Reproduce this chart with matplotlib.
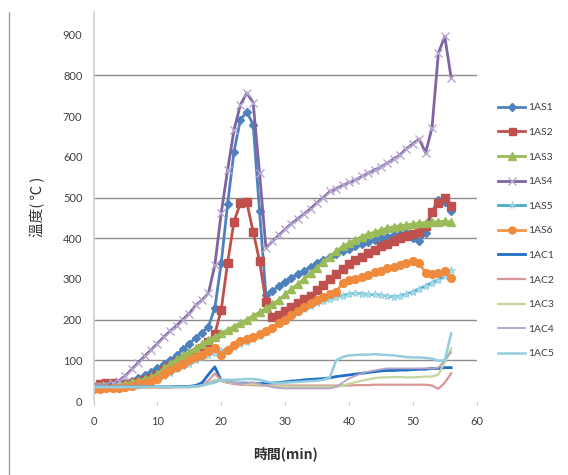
import matplotlib
matplotlib.use("Agg")
import matplotlib.pyplot as plt
from matplotlib.lines import Line2D

# time (min)
t = list(range(0, 57))

AS1 = [35, 36, 38, 40, 42, 45, 50, 56, 63, 72, 80, 90, 100, 113, 127, 141, 155, 168, 183, 229,
       339, 484, 613, 691, 711, 679, 467, 260, 270, 283, 293, 303, 312, 320, 330, 338, 347, 355,
       362, 368, 374, 380, 386, 391, 396, 400, 404, 408, 410, 412, 400, 392, 412, 465, 494, 490, 468]
AS2 = [35, 42, 45, 44, 42, 42, 44, 47, 52, 57, 64, 75, 86, 95, 102, 109, 116, 130, 145, 165,
       224, 340, 441, 486, 488, 416, 344, 244, 207, 212, 222, 230, 240, 250, 258, 272, 286, 300,
       313, 325, 336, 346, 355, 364, 372, 380, 387, 394, 400, 406, 410, 415, 430, 465, 486, 498, 480]
AS3 = [35, 37, 38, 40, 41, 43, 46, 50, 54, 59, 66, 80, 92, 102, 112, 121, 130, 140, 150, 158,
       166, 175, 183, 192, 200, 210, 218, 228, 238, 248, 262, 275, 288, 300, 315, 328, 342, 355,
       368, 380, 388, 396, 404, 410, 415, 420, 425, 428, 431, 433, 435, 437, 438, 440, 441, 442, 440]
AS4 = [35, 38, 40, 45, 50, 62, 78, 94, 110, 125, 141, 157, 172, 185, 200, 215, 235, 248, 265, 334,
       462, 568, 666, 728, 757, 733, 560, 376, 392, 407, 422, 436, 448, 460, 473, 487, 500, 515,
       522, 530, 537, 543, 552, 560, 568, 575, 585, 595, 605, 620, 632, 644, 610, 671, 855, 896, 794]
AS5 = [33, 33, 34, 35, 36, 38, 40, 42, 45, 48, 55, 62, 70, 78, 85, 92, 100, 107, 113, 118,
       122, 128, 133, 140, 146, 152, 160, 170, 180, 192, 202, 210, 218, 226, 233, 240, 245, 250,
       255, 259, 263, 265, 264, 262, 262, 260, 258, 256, 258, 263, 268, 275, 283, 290, 298, 308, 322]
AS6 = [30, 30, 31, 32, 33, 35, 38, 42, 45, 48, 55, 66, 76, 84, 92, 100, 107, 113, 122, 130,
       113, 125, 137, 147, 153, 158, 165, 172, 180, 192, 200, 212, 222, 232, 240, 248, 255, 262,
       268, 290, 298, 300, 305, 310, 316, 320, 326, 330, 334, 338, 343, 340, 314, 312, 315, 320, 302]
AC1 = [35, 35, 35, 35, 35, 35, 35, 35, 35, 35, 35, 35, 35, 36, 36, 36, 38, 45, 65, 84,
       50, 46, 44, 44, 44, 43, 43, 43, 44, 45, 47, 49, 50, 52, 53, 54, 55, 57,
       60, 62, 64, 66, 68, 70, 72, 74, 75, 75, 76, 76, 77, 78, 78, 80, 80, 82, 82]
AC2 = [33, 33, 33, 33, 33, 33, 33, 33, 33, 33, 33, 33, 33, 34, 34, 34, 35, 38, 50, 68,
       50, 45, 42, 40, 40, 39, 38, 38, 38, 38, 38, 38, 38, 38, 38, 38, 38, 38,
       38, 38, 38, 39, 39, 39, 40, 40, 40, 40, 40, 40, 40, 40, 40, 38, 30, 45, 68]
AC3 = [34, 34, 34, 34, 34, 34, 34, 34, 34, 34, 34, 34, 34, 34, 34, 34, 35, 37, 44, 52,
       50, 46, 44, 43, 42, 42, 40, 38, 37, 36, 36, 35, 35, 35, 35, 35, 35, 35,
       35, 38, 42, 46, 50, 53, 56, 58, 58, 59, 59, 58, 58, 59, 60, 60, 65, 95, 129]
AC4 = [35, 35, 35, 35, 35, 35, 35, 35, 35, 35, 35, 35, 35, 35, 35, 35, 36, 38, 44, 48,
       52, 48, 45, 42, 44, 46, 42, 38, 34, 32, 31, 31, 31, 31, 31, 31, 31, 31,
       35, 45, 55, 62, 68, 72, 75, 78, 80, 80, 80, 80, 80, 80, 80, 80, 82, 100, 120]
AC5 = [35, 35, 35, 35, 35, 35, 35, 35, 35, 35, 35, 35, 35, 35, 35, 35, 36, 38, 42, 45,
       52, 52, 52, 53, 54, 54, 52, 48, 45, 44, 45, 46, 47, 48, 49, 50, 52, 58,
       100, 108, 112, 113, 114, 114, 115, 114, 113, 112, 110, 108, 107, 107, 106, 104, 99, 100, 166]

names = ["1AS1", "1AS2", "1AS3", "1AS4", "1AS5", "1AS6", "1AC1", "1AC2", "1AC3", "1AC4", "1AC5"]
series = [AS1, AS2, AS3, AS4, AS5, AS6, AC1, AC2, AC3, AC4, AC5]

styles = [
    dict(color="#4F81BD", lw=2.0, marker="D", ms=4.2, mfc="#4F81BD", mec="#4F81BD"),
    dict(color="#C0504D", lw=2.0, marker="s", ms=5.6, mfc="#C0504D", mec="#C0504D"),
    dict(color="#9BBB59", lw=2.0, marker="^", ms=5.8, mfc="#9BBB59", mec="#9BBB59"),
    dict(color="#8064A2", lw=2.0, marker="x", ms=6.0, mfc="none", mec="#B7A6D0", mew=1.0),
    dict(color="#4BACC6", lw=2.0, marker="*", ms=6.0, mfc="#A9DCEA", mec="#8FD0E2", mew=0.6),
    dict(color="#F79646", lw=2.0, marker="o", ms=5.6, mfc="#F08A3C", mec="#F08A3C"),
    dict(color="#1F6FC6", lw=2.0),
    dict(color="#D99694", lw=1.6),
    dict(color="#C3D69B", lw=1.6),
    dict(color="#B3A2C7", lw=1.3),
    dict(color="#93CDDD", lw=1.8),
]

fig = plt.figure(figsize=(5.68, 4.75), dpi=100)
ax = fig.add_axes([93.5 / 568, 74 / 475, (476.7 - 93.5) / 568, (401 - 12) / 475])

for vals, name, st in zip(series, names, styles):
    ax.plot(t, vals, label=name, solid_joinstyle="round", **st)

ax.set_xlim(0, 60)
ax.set_ylim(0, 956)
ax.set_xticks(range(0, 61, 10))
ax.set_yticks(range(0, 901, 100))
for g in [100, 200, 400, 500, 800]:
    ax.axhline(g, color="#8C8C8C", lw=1.0, zorder=0)

for s in ["top", "right", "bottom"]:
    ax.spines[s].set_visible(False)
ax.spines["left"].set_color("#D0D0D0")
ax.spines["left"].set_linewidth(1.2)
ax.tick_params(axis="y", length=0, pad=8, labelsize=8, labelcolor="#404040")
ax.tick_params(axis="x", length=3, color="#C8C8C8", pad=8, labelsize=8, labelcolor="#404040")
for lab in ax.get_xticklabels() + ax.get_yticklabels():
    lab.set_family(["Lato", "DejaVu Sans"])

cjk = ["Noto Sans CJK TC", "DejaVu Sans"]
ax.set_xlabel("時間(min)", family=cjk, fontsize=10, fontweight="bold", color="#303030", labelpad=14)
ax.set_ylabel("溫度( ℃ )", family=cjk, fontsize=10.5, fontweight="medium", color="#303030", labelpad=13)

leg = fig.legend(loc="upper left", bbox_to_anchor=(494 / 568, 1 - 99 / 475), frameon=False,
                 fontsize=7.5, labelspacing=1.47, handlelength=2.6, handletextpad=0.3,
                 borderaxespad=0, markerscale=0.9)
for txt in leg.get_texts():
    txt.set_color("#404040")
    txt.set_family(["Lato", "DejaVu Sans"])

fig.add_artist(Line2D([9 / 568, 9 / 568], [0, 1 - 12 / 475], transform=fig.transFigure,
                      color="#A0A0A0", lw=1.0))

fig.savefig("out.png", dpi=100)
